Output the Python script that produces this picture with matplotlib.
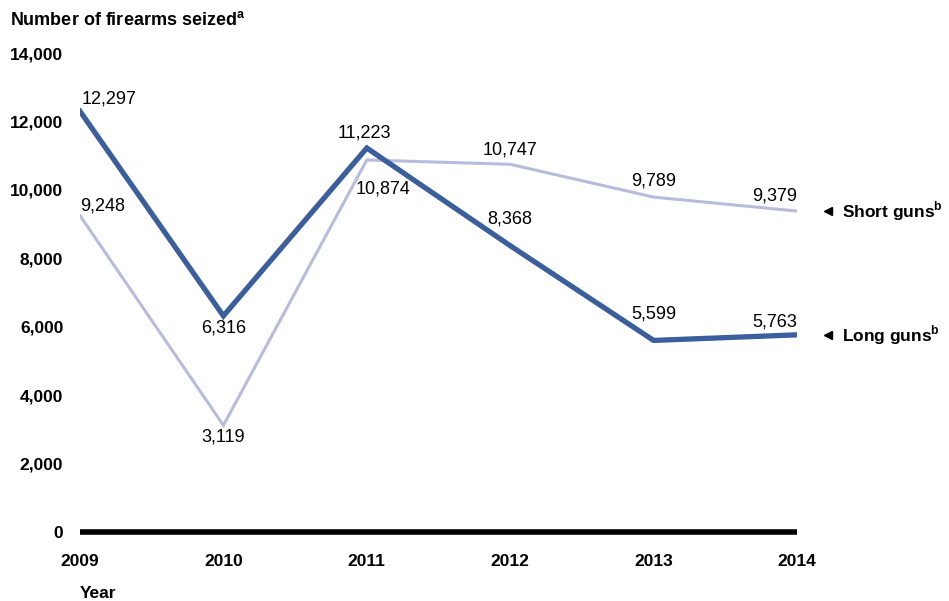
import matplotlib
matplotlib.use("Agg")
import matplotlib.pyplot as plt

plt.rcParams['font.family'] = ['Liberation Sans', 'DejaVu Sans']
plt.rcParams['mathtext.fontset'] = 'custom'
plt.rcParams['mathtext.rm'] = 'Liberation Sans'
plt.rcParams['mathtext.bf'] = 'Liberation Sans:bold'

years = [2009, 2010, 2011, 2012, 2013, 2014]
long_guns = [12297, 6316, 11223, 8368, 5599, 5763]
short_guns = [9248, 3119, 10874, 10747, 9789, 9379]
y_ticks = [0, 2000, 4000, 6000, 8000, 10000, 12000, 14000]

# label offsets in pixels (dx, dy, ha)
long_offsets = [(2, 12, 'left'), (0, -12, 'center'), (-2, 15, 'center'),
                (0, 27, 'center'), (0, 26, 'center'), (0, 13, 'right')]
short_offsets = [(0, 10, 'left'), (0, -12, 'center'), (16, -29, 'center'),
                 (0, 14, 'center'), (0, 16, 'center'), (0, 15, 'right')]

dark = '#3b5e9d'
light = '#b8bcdc'

W, H = 949, 601
fig = plt.figure(figsize=(W / 100, H / 100), dpi=100)
ax = fig.add_axes([80 / W, (H - 532) / H, (797 - 80) / W, (532 - 53) / H])

ax.plot(years, short_guns, color=light, lw=2.2, solid_joinstyle='miter')
ax.plot(years, long_guns, color=dark, lw=3.8, solid_joinstyle='miter')

for x, v, (dx, dy, ha) in zip(years, long_guns, long_offsets):
    ax.annotate(f"{v:,}", (x, v), xytext=(dx, dy), textcoords='offset pixels',
                ha=ha, va='center', fontsize=13)
for x, v, (dx, dy, ha) in zip(years, short_guns, short_offsets):
    ax.annotate(f"{v:,}", (x, v), xytext=(dx, dy), textcoords='offset pixels',
                ha=ha, va='center', fontsize=13)

ax.set_xlim(2009, 2014)
ax.set_ylim(0, 14000)
ax.set_xticks(years)
ax.set_xticklabels([str(y) for y in years], fontweight='bold', fontsize=12.5)
ax.set_yticks(y_ticks)
ax.set_yticklabels([f"{t:,}" for t in y_ticks], fontweight='bold', fontsize=12.5)
ax.tick_params(axis='both', length=0)
ax.tick_params(axis='y', pad=12)
ax.tick_params(axis='x', pad=16)
for s in ['top', 'right', 'left']:
    ax.spines[s].set_visible(False)
ax.spines['bottom'].set_linewidth(4)
ax.spines['bottom'].set_capstyle('butt')

# series legend at the right end
for v, name in [(short_guns[-1], 'Short guns'), (long_guns[-1], 'Long guns')]:
    ax.plot([2014.215], [v], marker='<', color='black', markersize=6, clip_on=False)
    ax.annotate(name + r"$^{\mathbf{b}}$", (2014, v), xytext=(45, 0),
                textcoords='offset pixels', ha='left', va='center',
                fontsize=12.5, fontweight='bold')

fig.text(10 / W, 1 - 20 / H, r"Number of firearms seized$^{\mathbf{a}}$",
         ha='left', va='center', fontsize=13, fontweight='bold')
fig.text(80 / W, 1 - 593 / H, "Year", ha='left', va='center',
         fontsize=12.5, fontweight='bold')

fig.savefig('out.png', dpi=100)
